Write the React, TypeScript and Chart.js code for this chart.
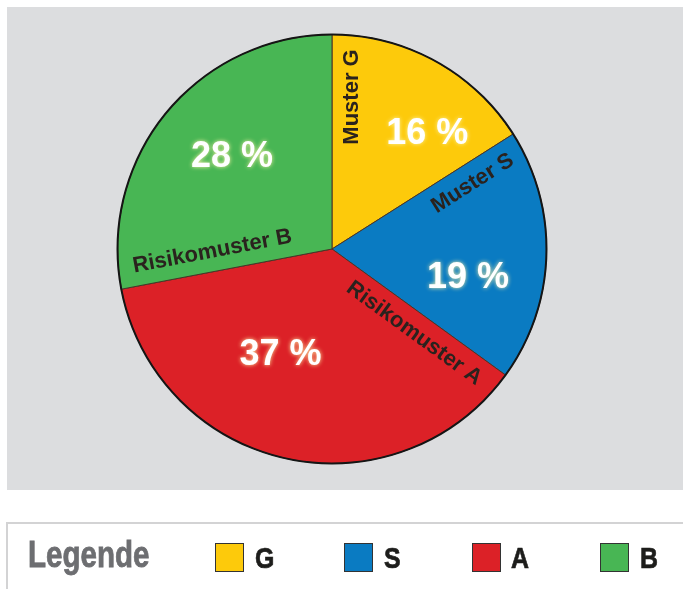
import React, { useEffect, useRef } from "react";
import { Chart, registerables } from "chart.js";

Chart.register(...registerables);

const categories = ["G", "S", "A", "B"];
const sliceNames = ["Muster G", "Muster S", "Risikomuster A", "Risikomuster B"];
const values = [16, 19, 37, 28];
const colors = ["#fdca0b", "#0a7bc2", "#dc2127", "#48b654"];
const legendTitle = "Legende";

// layout styles for labels (not data)
const nameAlong = [152, 154, 116, 118];
const nameOffset = 20;
const pctFrac = [0.69, 0.65, 0.6, 0.53];
const pctRadius = [149, 139, 118, 136];

const labelPlugin = {
  id: "sliceLabels",
  afterDatasetsDraw(chart: any) {
    const ctx = chart.ctx;
    const meta = chart.getDatasetMeta(0);
    ctx.save();
    meta.data.forEach((arc: any, i: number) => {
      const { x, y, startAngle, endAngle, outerRadius } = arc.getProps(
        ["x", "y", "startAngle", "endAngle", "outerRadius"],
        true
      );
      const ts = startAngle + Math.PI / 2;
      const te = endAngle + Math.PI / 2;
      const dx = Math.sin(ts), dy = -Math.cos(ts);
      const px = Math.cos(ts), py = Math.sin(ts);
      const lx = x + nameAlong[i] * dx + nameOffset * px;
      const ly = y + nameAlong[i] * dy + nameOffset * py;
      const rot = ts <= Math.PI ? ts - Math.PI / 2 : ts + Math.PI / 2;
      ctx.save();
      ctx.translate(lx, ly);
      ctx.rotate(rot);
      ctx.font = "bold 22px 'Liberation Sans', Arial, sans-serif";
      ctx.fillStyle = "#2a221e";
      ctx.textAlign = "center";
      ctx.textBaseline = "middle";
      ctx.fillText(sliceNames[i], 0, 0);
      ctx.restore();
      const t = ts + pctFrac[i] * (te - ts);
      const qx = x + pctRadius[i] * Math.sin(t);
      const qy = y - pctRadius[i] * Math.cos(t);
      ctx.save();
      ctx.font = "bold 36px 'Liberation Sans', Arial, sans-serif";
      ctx.fillStyle = "#ffffff";
      ctx.textAlign = "center";
      ctx.textBaseline = "middle";
      ctx.shadowColor = "rgba(255,245,170,0.95)";
      ctx.shadowBlur = 4;
      ctx.fillText(values[i] + " %", qx, qy);
      ctx.restore();
      if (i === 0) {
        ctx.beginPath();
        ctx.arc(x, y, outerRadius, 0, Math.PI * 2);
        ctx.strokeStyle = "#151515";
        ctx.lineWidth = 2;
        ctx.stroke();
      }
    });
    ctx.restore();
  },
};

export default function App() {
  const ref = useRef<HTMLCanvasElement | null>(null);
  useEffect(() => {
    if (!ref.current) return;
    const chart = new Chart(ref.current, {
      type: "pie",
      data: {
        labels: categories,
        datasets: [
          {
            data: values,
            backgroundColor: colors,
            borderColor: "#4a3426",
            borderWidth: 1,
          },
        ],
      },
      options: {
        responsive: false,
        animation: false,
        devicePixelRatio: 1,
        layout: { padding: { left: 117, right: 136, top: 34, bottom: 125 } },
        plugins: { legend: { display: false }, tooltip: { enabled: false } },
      },
      plugins: [labelPlugin],
    } as any);
    return () => chart.destroy();
  }, []);

  const cond = "'Liberation Sans', Arial, sans-serif";
  const swX = [215, 344, 472, 600];
  const txX = [255, 384, 511, 640];

  return (
    <div
      style={{
        position: "absolute",
        left: 0,
        top: 0,
        width: 683,
        height: 589,
        background: "#ffffff",
        overflow: "hidden",
      }}
    >
      <div
        style={{
          position: "absolute",
          left: 7,
          top: 7,
          width: 676,
          height: 483,
          background: "#dcdddf",
        }}
      />
      <canvas
        ref={ref}
        width={683}
        height={589}
        style={{ position: "absolute", left: 0, top: 0 }}
      />
      <div
        style={{
          position: "absolute",
          left: 6,
          top: 522,
          width: 690,
          height: 80,
          borderTop: "2px solid #d3d3d4",
          borderLeft: "2px solid #d3d3d4",
          boxSizing: "border-box",
        }}
      />
      <div
        style={{
          position: "absolute",
          left: 28,
          top: 537,
          fontFamily: cond,
          fontWeight: "bold",
          fontSize: 36,
          lineHeight: "36px",
          color: "#6d6e71",
          WebkitTextStroke: "0.8px #6d6e71",
          transform: "scaleX(0.82)",
          transformOrigin: "left top",
          whiteSpace: "nowrap",
        }}
      >
        {legendTitle}
      </div>
      {categories.map((c, i) => (
        <React.Fragment key={c}>
          <div
            style={{
              position: "absolute",
              left: swX[i],
              top: 543,
              width: 29,
              height: 29,
              background: colors[i],
              border: "1px solid #333333",
              boxSizing: "border-box",
            }}
          />
          <div
            style={{
              position: "absolute",
              left: txX[i],
              top: 543,
              fontFamily: cond,
              fontWeight: "bold",
              fontSize: 30,
              lineHeight: "30px",
              color: "#1d1d1b",
              WebkitTextStroke: "0.7px #1d1d1b",
              transform: "scaleX(0.83)",
              transformOrigin: "left top",
            }}
          >
            {c}
          </div>
        </React.Fragment>
      ))}
    </div>
  );
}
